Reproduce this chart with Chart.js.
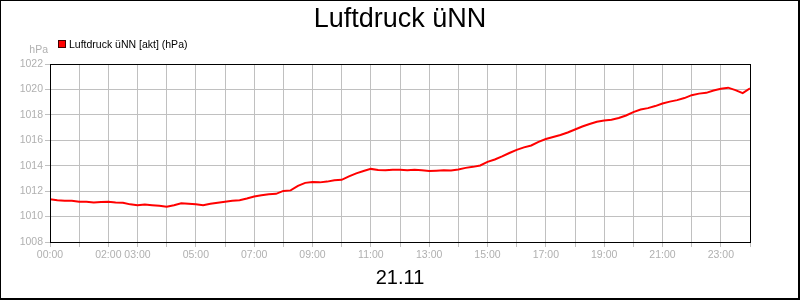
<!DOCTYPE html>
<html>
<head>
<meta charset="utf-8">
<title>Luftdruck üNN</title>
<script src="https://cdn.jsdelivr.net/npm/chart.js@4"></script>
<style>
  body { margin: 0; background: #fff; }
  canvas { display: block; }
</style>
</head>
<body>
<canvas id="chart" width="800" height="300"></canvas>
<script>
// values, every 15 minutes
var times = [
  '00:00','00:15','00:30','00:45','01:00','01:15','01:30','01:45',
  '02:00','02:15','02:30','02:45','03:00','03:15','03:30','03:45',
  '04:00','04:15','04:30','04:45','05:00','05:15','05:30','05:45',
  '06:00','06:15','06:30','06:45','07:00','07:15','07:30','07:45',
  '08:00','08:15','08:30','08:45','09:00','09:15','09:30','09:45',
  '10:00','10:15','10:30','10:45','11:00','11:15','11:30','11:45',
  '12:00','12:15','12:30','12:45','13:00','13:15','13:30','13:45',
  '14:00','14:15','14:30','14:45','15:00','15:15','15:30','15:45',
  '16:00','16:15','16:30','16:45','17:00','17:15','17:30','17:45',
  '18:00','18:15','18:30','18:45','19:00','19:15','19:30','19:45',
  '20:00','20:15','20:30','20:45','21:00','21:15','21:30','21:45',
  '22:00','22:15','22:30','22:45','23:00','23:15','23:30','23:45',
  '24:00'
];
var pressure = [
  1011.36, 1011.28, 1011.24, 1011.24, 1011.16, 1011.16, 1011.11, 1011.14,
  1011.16, 1011.11, 1011.08, 1010.96, 1010.90, 1010.94, 1010.90, 1010.85,
  1010.77, 1010.89, 1011.04, 1011.00, 1010.96, 1010.89, 1011.00, 1011.08,
  1011.16, 1011.24, 1011.29, 1011.42, 1011.58, 1011.67, 1011.75, 1011.79,
  1012.02, 1012.06, 1012.42, 1012.65, 1012.71, 1012.69, 1012.75, 1012.86,
  1012.89, 1013.16, 1013.40, 1013.59, 1013.75, 1013.67, 1013.65, 1013.69,
  1013.69, 1013.65, 1013.69, 1013.65, 1013.58, 1013.61, 1013.65, 1013.63,
  1013.71, 1013.83, 1013.91, 1014.02, 1014.30, 1014.49, 1014.73, 1015.00,
  1015.25, 1015.44, 1015.59, 1015.87, 1016.10, 1016.26, 1016.42, 1016.61,
  1016.85, 1017.08, 1017.28, 1017.46, 1017.55, 1017.61, 1017.75, 1017.95,
  1018.22, 1018.42, 1018.53, 1018.69, 1018.89, 1019.04, 1019.16, 1019.32,
  1019.55, 1019.67, 1019.73, 1019.91, 1020.06, 1020.14, 1019.95, 1019.71,
  1020.08
];
var hourTicks = [0,1,2,3,4,5,6,7,8,9,10,11,12,13,14,15,16,17,18,19,20,21,22,23,24];
var hourLabels = ['00:00','02:00','03:00','05:00','07:00','09:00','11:00','13:00',
                  '15:00','17:00','19:00','21:00','23:00'];

var chartTitle = 'Luftdruck üNN';
var seriesName = 'Luftdruck üNN [akt] (hPa)';
var unitLabel = 'hPa';
var dateLabel = '21.11';

Chart.defaults.font.family = '"Liberation Sans", Arial, sans-serif';

function toHours(t) {
  var p = t.split(':');
  return parseInt(p[0], 10) + parseInt(p[1], 10) / 60;
}
function hourText(v) {
  return (v < 10 ? '0' : '') + v + ':00';
}

var points = times.map(function (t, i) {
  return { x: toHours(t), y: pressure[i] };
});

var tickGrey = '#b0b0b0';
var gridGrey = '#c0c0c0';

var decorations = {
  id: 'decorations',
  afterDatasetsDraw: function (chart) {
    var c = chart.ctx, a = chart.chartArea;
    c.save();
    // plot frame
    c.strokeStyle = '#000';
    c.lineWidth = 1;
    c.strokeRect(a.left + 0.5, a.top + 0.5, a.right - a.left, a.bottom - a.top);
    c.restore();
  },
  afterDraw: function (chart) {
    var c = chart.ctx;
    c.save();
    // outer frame
    c.fillStyle = '#000';
    c.fillRect(0, 0, 800, 1);
    c.fillRect(0, 0, 1, 300);
    c.fillRect(798, 0, 2, 300);
    c.fillRect(0, 298, 800, 2);

    c.textBaseline = 'alphabetic';
    // title
    c.fillStyle = '#000';
    c.textAlign = 'center';
    c.font = '27px "Liberation Sans", Arial, sans-serif';
    c.fillText(chartTitle, 400, 27);

    // date below x axis
    c.font = '20px "Liberation Sans", Arial, sans-serif';
    c.fillText(dateLabel, 400, 284);

    // legend
    c.fillStyle = '#ff0000';
    c.fillRect(58, 40, 8, 8);
    c.strokeStyle = '#400000';
    c.lineWidth = 1;
    c.strokeRect(58.5, 40.5, 7, 7);
    c.fillStyle = '#000';
    c.textAlign = 'left';
    c.font = '10.5px "Liberation Sans", Arial, sans-serif';
    c.fillText(seriesName, 69, 48);

    // unit
    c.fillStyle = tickGrey;
    c.textAlign = 'right';
    c.fillText(unitLabel, 48, 53);
    c.restore();
  }
};

new Chart(document.getElementById('chart'), {
  type: 'line',
  data: {
    datasets: [{
      label: seriesName,
      data: points,
      borderColor: '#ff0000',
      backgroundColor: '#ff0000',
      borderWidth: 2,
      pointRadius: 0,
      tension: 0,
      fill: false
    }]
  },
  options: {
    responsive: false,
    animation: false,
    layout: { padding: { top: 64, left: 0, right: 50, bottom: 0 } },
    plugins: {
      legend: { display: false },
      title: { display: false },
      tooltip: { enabled: false }
    },
    scales: {
      x: {
        type: 'linear',
        min: 0,
        max: 24,
        afterBuildTicks: function (axis) {
          axis.ticks = hourTicks.map(function (h) { return { value: h }; });
        },
        afterFit: function (axis) { axis.height = 58; },
        grid: { color: gridGrey, lineWidth: 1, tickLength: 5 },
        border: { display: false },
        ticks: {
          autoSkip: false,
          maxRotation: 0,
          color: tickGrey,
          padding: 2,
          font: { size: 10.5 },
          callback: function (v) {
            var s = hourText(v);
            return hourLabels.indexOf(s) >= 0 ? s : '';
          }
        }
      },
      y: {
        min: 1008,
        max: 1022,
        afterFit: function (axis) { axis.width = 50; },
        grid: { color: gridGrey, lineWidth: 1, tickLength: 5 },
        border: { display: false },
        ticks: {
          stepSize: 2,
          color: tickGrey,
          padding: 2,
          font: { size: 10.5 },
          callback: function (v) { return String(v); }
        }
      }
    }
  },
  plugins: [decorations]
});
</script>
</body>
</html>
